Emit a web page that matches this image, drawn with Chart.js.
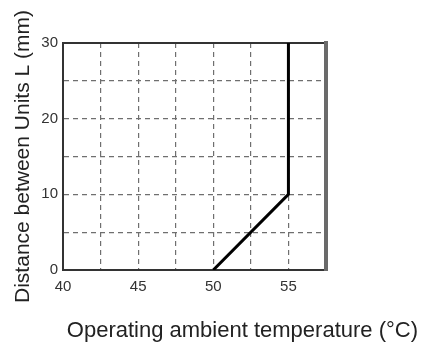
<!DOCTYPE html>
<html>
<head>
<meta charset="utf-8">
<script src="https://cdn.jsdelivr.net/npm/chart.js@4"></script>
<style>
  body { margin: 0; background: #fff; }
</style>
</head>
<body>
<canvas id="chart" width="424" height="348"></canvas>
<script>
// derating curve: distance between units vs ambient temperature
const temperatures = [50, 55, 55];
const distances = [0, 10, 30];
const xTickLabels = [40, 45, 50, 55];
const yTickLabels = [0, 10, 20, 30];

const gridStyle = {
  color: '#6f6f6f',
  lineWidth: 1.2,
  tickLength: 0,
  drawTicks: false
};
const tickFont = { family: '"Liberation Sans", Arial', size: 15 };

new Chart(document.getElementById('chart').getContext('2d'), {
  type: 'line',
  data: {
    datasets: [{
      data: temperatures.map((t, i) => ({ x: t, y: distances[i] })),
      borderColor: '#000',
      borderWidth: 3,
      pointRadius: 0,
      fill: false,
      tension: 0
    }]
  },
  options: {
    responsive: false,
    animation: false,
    layout: { padding: { left: 0, right: 6, top: 0, bottom: 0 } },
    plugins: {
      legend: { display: false },
      tooltip: { enabled: false },
      title: {
        display: true,
        text: 'Operating ambient temperature (°C)',
        position: 'bottom',
        align: 'end',
        color: '#222',
        font: { family: '"Liberation Sans", Arial', size: 22, weight: 'normal' },
        padding: { top: 2, bottom: 4 }
      }
    },
    scales: {
      x: {
        type: 'linear',
        min: 40,
        max: 57.5,
        ticks: {
          stepSize: 2.5,
          autoSkip: false,
          maxRotation: 0,
          padding: 8,
          color: '#333',
          font: tickFont,
          callback: v => xTickLabels.includes(v) ? String(v) : ''
        },
        grid: { ...gridStyle },
        border: { display: true, color: '#333', width: 2, dash: [5, 4] },
        afterFit: s => { s.height = 45.6; }
      },
      y: {
        type: 'linear',
        min: 0,
        max: 30,
        ticks: {
          stepSize: 5,
          autoSkip: false,
          padding: 5,
          color: '#333',
          font: tickFont,
          callback: v => yTickLabels.includes(v) ? String(v) : ''
        },
        grid: { ...gridStyle },
        border: { display: true, color: '#333', width: 2, dash: [5, 4] },
        title: {
          display: true,
          text: 'Distance between Units L (mm)',
          color: '#222',
          font: { family: '"Liberation Sans", Arial', size: 21, weight: 'normal' },
          padding: { top: 11, bottom: 0 }
        },
        afterFit: s => { s.width = 63; }
      },
      // frame: top and right edges
      xTop: {
        type: 'linear',
        position: 'top',
        ticks: { display: false },
        grid: { display: false },
        border: { display: true, color: '#333', width: 2 },
        afterFit: s => { s.height = 43; }
      },
      yRight: {
        type: 'linear',
        position: 'right',
        ticks: { display: false },
        grid: { display: false },
        border: { display: true, color: '#6a6a6a', width: 4 },
        afterFit: s => { s.width = 92; }
      }
    }
  }
});
</script>
</body>
</html>
